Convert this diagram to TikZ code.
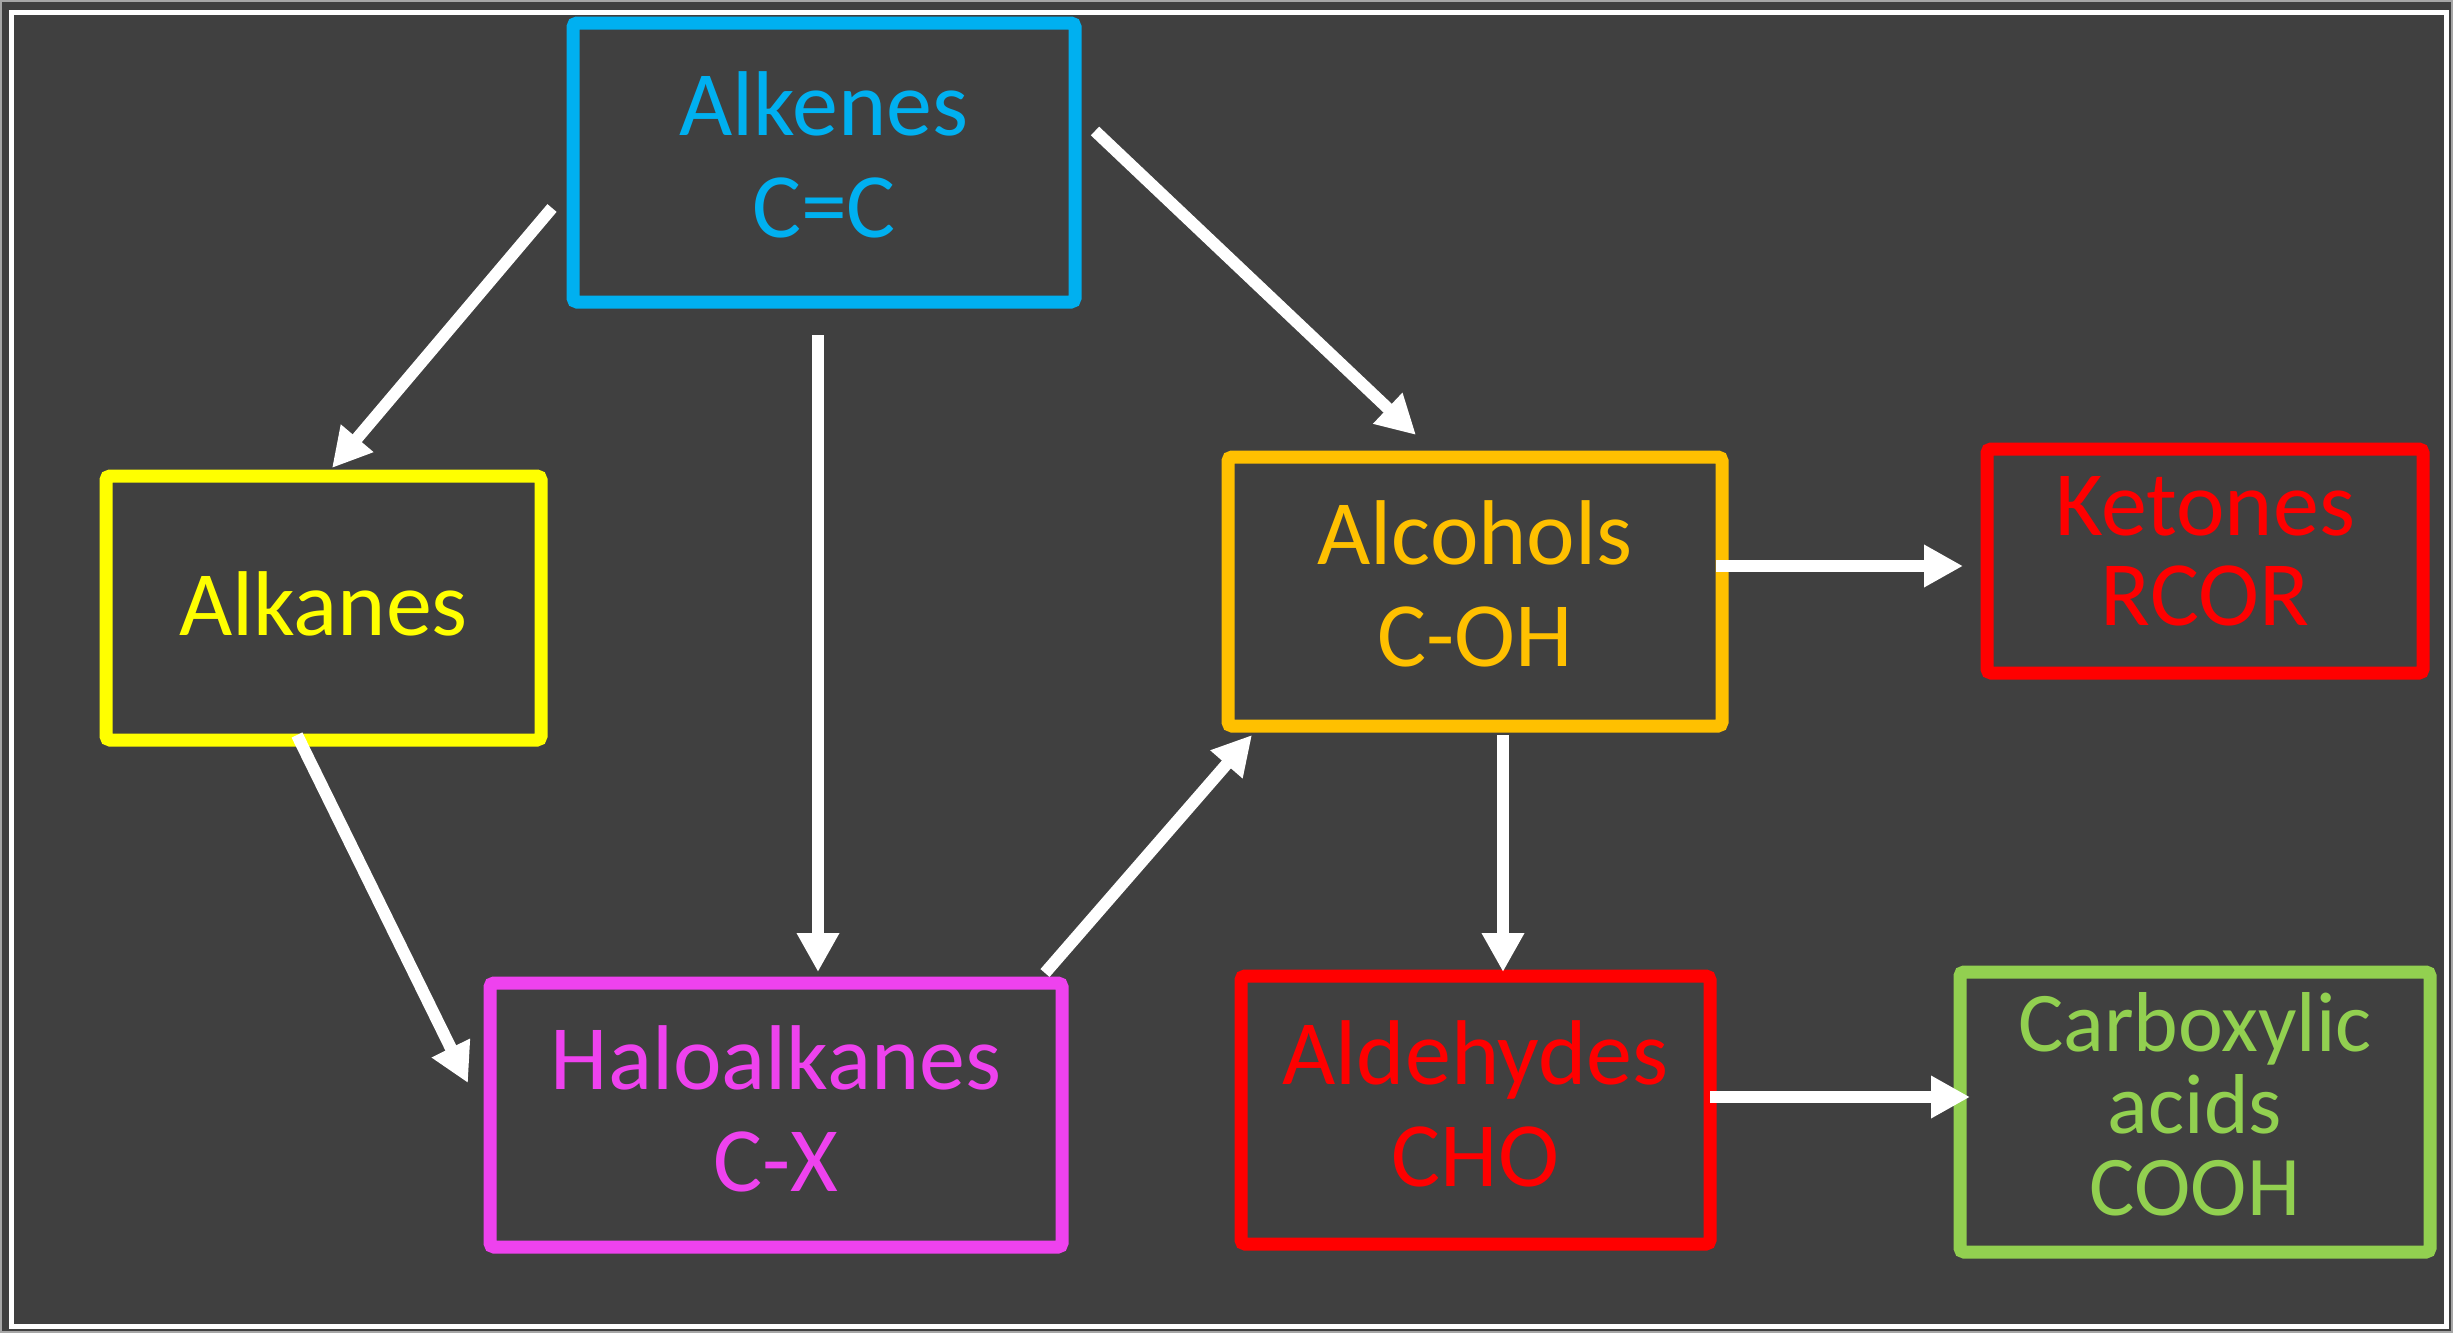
\documentclass[tikz,border=0pt]{standalone}
\usepackage{fontspec}
\setmainfont{Carlito}
\usetikzlibrary{arrows.meta}
\definecolor{bg}{HTML}{404040}
\definecolor{cAlkene}{HTML}{00B0F0}
\definecolor{cAlkane}{HTML}{FFFF00}
\definecolor{cHalo}{HTML}{EE42EE}
\definecolor{cAlcohol}{HTML}{FFC000}
\definecolor{cRed}{HTML}{FF0000}
\definecolor{cAcid}{HTML}{92D050}
\begin{document}
\begin{tikzpicture}[x=0.5pt,y=-0.5pt,
  box/.style={draw, line width=6.5pt, rounded corners=2pt, inner sep=0pt},
  txt/.style={inner sep=0pt, align=center, font=\fontsize{46}{51}\selectfont},
  arr/.style={draw=white, line width=6pt, -{Triangle[length=19.5pt,width=20pt]}}]
\useasboundingbox (0,0) rectangle (2453,1333);
\fill[bg] (0,0) rectangle (2453,1333);
\draw[gray!70, line width=1pt] (1,1) rectangle (2452,1332);
\draw[white, line width=2.5pt] (11.5,12.5) rectangle (2446.5,1326.5);

\node[box, draw=cAlkene, minimum width=251pt, minimum height=139.5pt] (alkenes) at (824,162.5) {};
\node[box, draw=cAlkane, minimum width=217.5pt, minimum height=132pt] (alkanes) at (323.5,608) {};
\node[box, draw=cHalo, minimum width=286pt, minimum height=132pt] (halo) at (776,1115) {};
\node[box, draw=cAlcohol, minimum width=247pt, minimum height=134.5pt] (alcohols) at (1475,591.5) {};
\node[box, draw=cRed, minimum width=218pt, minimum height=112pt] (ketones) at (2205,561) {};
\node[box, draw=cRed, minimum width=234.5pt, minimum height=134pt] (aldehydes) at (1475.5,1110) {};
\node[box, draw=cAcid, minimum width=235pt, minimum height=140pt] (acids) at (2195,1112) {};

\node[txt, text=cAlkene] (tAlkenes) at ([yshift=4pt]alkenes.center) {Alkenes\\C=C};
\node[txt, text=cAlkane] (tAlkanes) at ([yshift=2pt]alkanes.center) {Alkanes};
\node[txt, text=cHalo] (tHalo) at ([yshift=3pt]halo.center) {Haloalkanes\\C-X};
\node[txt, text=cAlcohol] (tAlcohols) at ([yshift=4pt]alcohols.center) {Alcohols\\C-OH};
\node[txt, text=cRed, font=\fontsize{46}{45}\selectfont] (tKetones) at ([yshift=5pt]ketones.center) {Ketones\\RCOR};
\node[txt, text=cRed] (tAldehydes) at ([yshift=3pt]aldehydes.center) {Aldehydes\\CHO};
\node[txt, text=cAcid, font=\fontsize{42.5}{41}\selectfont] (tAcids) at ([yshift=4pt]acids.center) {Carboxylic\\acids\\COOH};

\coordinate (a1s) at (552,208);   \coordinate (a1e) at (332,468);
\coordinate (a2s) at (818,335);   \coordinate (a2e) at (818,972);
\coordinate (a3s) at (1095,131);  \coordinate (a3e) at (1416,435);
\coordinate (a4s) at (297,735);   \coordinate (a4e) at (468,1083);
\coordinate (a5s) at (1045,973);  \coordinate (a5e) at (1252,735);
\coordinate (a6s) at (1716,566);  \coordinate (a6e) at (1963,566);
\coordinate (a7s) at (1503,735);  \coordinate (a7e) at (1503,972);
\coordinate (a8s) at (1710,1097); \coordinate (a8e) at (1970,1097);

\draw[arr] (a1s) -- (a1e);
\draw[arr] (a2s) -- (a2e);
\draw[arr] (a3s) -- (a3e);
\draw[arr] (a4s) -- (a4e);
\draw[arr] (a5s) -- (a5e);
\draw[arr] (a6s) -- (a6e);
\draw[arr] (a7s) -- (a7e);
\draw[arr] (a8s) -- (a8e);
\end{tikzpicture}
\end{document}
